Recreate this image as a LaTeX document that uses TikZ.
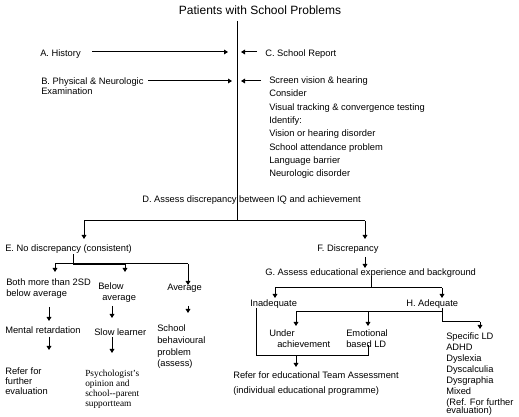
\documentclass[tikz,border=0pt]{standalone}
\usepackage{fontspec}
\setmainfont{Liberation Sans}
\newfontfamily\serifpsy{Liberation Serif}
\usetikzlibrary{arrows.meta}
\begin{document}
\begin{tikzpicture}[x=0.75pt,y=-0.75pt,
  txt/.style={font=\fontsize{7}{8}\selectfont, inner sep=0pt, anchor=west},
  blk/.style={font=\fontsize{7}{#1}\selectfont, inner sep=0pt, anchor=north west, align=left},
  ln/.style={line width=0.75pt},
  arr/.style={line width=0.75pt, -{Triangle[length=3pt,width=3.5pt]}}]
\fill[white] (0,0) rectangle (519,417);
\useasboundingbox (0,0) rectangle (519,417);

% ---------- texts ----------
\node[font=\fontsize{9}{10}\selectfont, inner sep=0pt] (title) at (260,10) {Patients with School Problems};
\node[txt] (A) at (40,54) {A. History};
\node[txt] (C) at (265,54) {C. School Report};
\node[blk=7.5pt] (B) at (41,77.6) {B. Physical \& Neurologic\\Examination};
\node[blk=10pt] (list) at (269,76.6) {Screen vision \& hearing\\Consider\\Visual tracking \& convergence testing\\Identify:\\Vision or hearing disorder\\School attendance problem\\Language barrier\\Neurologic disorder};
\node[txt] (D) at (142,200) {D. Assess discrepancy between IQ and achievement};
\node[txt] (E) at (5,249) {E. No discrepancy (consistent)};
\node[txt] (F) at (317,249) {F. Discrepancy};
\node[txt] (G) at (265,273) {G. Assess educational experience and background};
\node[blk=8.25pt] (both) at (6,278.6) {Both more than 2SD\\below average};
\node[blk=8.25pt] (below) at (98,282.6) {Below\\\hspace*{3pt}average};
\node[txt] (avg) at (167,288) {Average};
\node[txt] (mr) at (5,330) {Mental retardation};
\node[blk=7.5pt] (refer1) at (5,367.6) {Refer for\\further\\evaluation};
\node[txt] (slow) at (94,332) {Slow learner};
\node[blk=7.5pt, font=\serifpsy\fontsize{7}{7.5}\selectfont] (psy) at (85,369.6) {Psychologist’s\\opinion and\\school-{}-parent\\supportteam};
\node[blk=8.8pt] (sbp) at (157,324.6) {School\\behavioural\\problem\\(assess)};
\node[txt] (inad) at (250,304) {Inadequate};
\node[txt] (adeq) at (406,304) {H. Adequate};
\node[blk=8.25pt] (under) at (269,329.6) {Under\\\hspace*{6pt}achievement};
\node[blk=8.25pt] (emo) at (346,329.6) {Emotional\\based LD};
\node[blk=11.25pt] (team) at (233,371.6) {Refer for educational Team Assessment\\(individual educational programme)};
\node[blk=8.25pt] (sld) at (446,332.6) {Specific LD\\ADHD\\Dyslexia\\Dyscalculia\\Dysgraphia\\Mixed\\(Ref. For further\\[-2pt]evaluation)};

% ---------- junction coordinates ----------
\coordinate (vtop) at (237,21);
\coordinate (vD) at (237,221);
\coordinate (hL) at (84,221);
\coordinate (hR) at (365,221);
\coordinate (Ein) at (84,239);
\coordinate (Fin) at (365,239);
\coordinate (Aout) at (92,52);
\coordinate (Ain) at (228,52);
\coordinate (Cout) at (257,52);
\coordinate (Cin) at (241,52);
\coordinate (Bout) at (148,81);
\coordinate (Bin) at (232,81);
\coordinate (Lout) at (261,81);
\coordinate (Lin) at (241,81);
% E branch
\coordinate (Eo) at (73,254);
\coordinate (Ej) at (73,264);
\coordinate (Eh1) at (55,264);
\coordinate (Eh2) at (125,264);
\coordinate (Eh3) at (188,264);
\coordinate (bothin) at (55,272);
\coordinate (belowin) at (125,272);
\coordinate (avgin) at (188,285);
\coordinate (both1) at (49,307);
\coordinate (mrin) at (49,321);
\coordinate (mr1) at (49,337);
\coordinate (ref1in) at (49,350);
\coordinate (below1) at (112,306);
\coordinate (slowin) at (112,318);
\coordinate (slow1) at (112,337);
\coordinate (psyin) at (112,353);
\coordinate (avg1) at (188,306);
\coordinate (sbpin) at (188,313);
% F branch
\coordinate (F1) at (365,257);
\coordinate (Gin) at (365,268);
\coordinate (G1) at (371,276);
\coordinate (Gj) at (371,288);
\coordinate (Gh1) at (275,288);
\coordinate (Gh2) at (442,288);
\coordinate (inadin) at (275,298);
\coordinate (adeqin) at (442,298);
\coordinate (inad1) at (256,308);
\coordinate (inad2) at (256,356);
\coordinate (bj) at (368,356);
\coordinate (emo1) at (368,345);
\coordinate (bjm) at (296,356);
\coordinate (teamin) at (296,367);
\coordinate (H1) at (442,308);
\coordinate (Hj) at (442,312);
\coordinate (H2) at (442,322);
\coordinate (H3) at (480,322);
\coordinate (sldin) at (480,329);
\coordinate (Hh1) at (296,312);
\coordinate (Hh2) at (368,312);
\coordinate (underin) at (296,326);
\coordinate (emoin) at (368,326);

% ---------- connectors ----------
\draw[ln] (vtop) -- (vD);
\draw[ln] (hL) -- (hR);
\draw[arr] (hL) -- (Ein);
\draw[arr] (hR) -- (Fin);
\draw[arr] (Aout) -- (Ain);
\draw[arr] (Cout) -- (Cin);
\draw[arr] (Bout) -- (Bin);
\draw[arr] (Lout) -- (Lin);

\draw[ln] (Eo) -- (Ej);
\draw[ln] (Eh1) -- (Eh3);
\draw[line width=1.5pt] (Ej) -- (Eh2);
\draw[arr] (Eh1) -- (bothin);
\draw[arr] (Eh2) -- (belowin);
\draw[arr] (Eh3) -- (avgin);
\draw[arr] (both1) -- (mrin);
\draw[arr] (mr1) -- (ref1in);
\draw[arr] (below1) -- (slowin);
\draw[arr] (slow1) -- (psyin);
\draw[arr] (avg1) -- (sbpin);

\draw[arr] (F1) -- (Gin);
\draw[ln] (G1) -- (Gj);
\draw[ln] (Gh1) -- (Gh2);
\draw[arr] (Gh1) -- (inadin);
\draw[arr] (Gh2) -- (adeqin);
\draw[ln] (inad1) -- (inad2) -- (bj) -- (emo1);
\draw[arr] (bjm) -- (teamin);
\draw[ln] (H1) -- (H2) -- (H3);
\draw[arr] (H3) -- (sldin);
\draw[ln] (Hh1) -- (Hj);
\draw[arr] (Hh1) -- (underin);
\draw[arr] (Hh2) -- (emoin);
\end{tikzpicture}
\end{document}
